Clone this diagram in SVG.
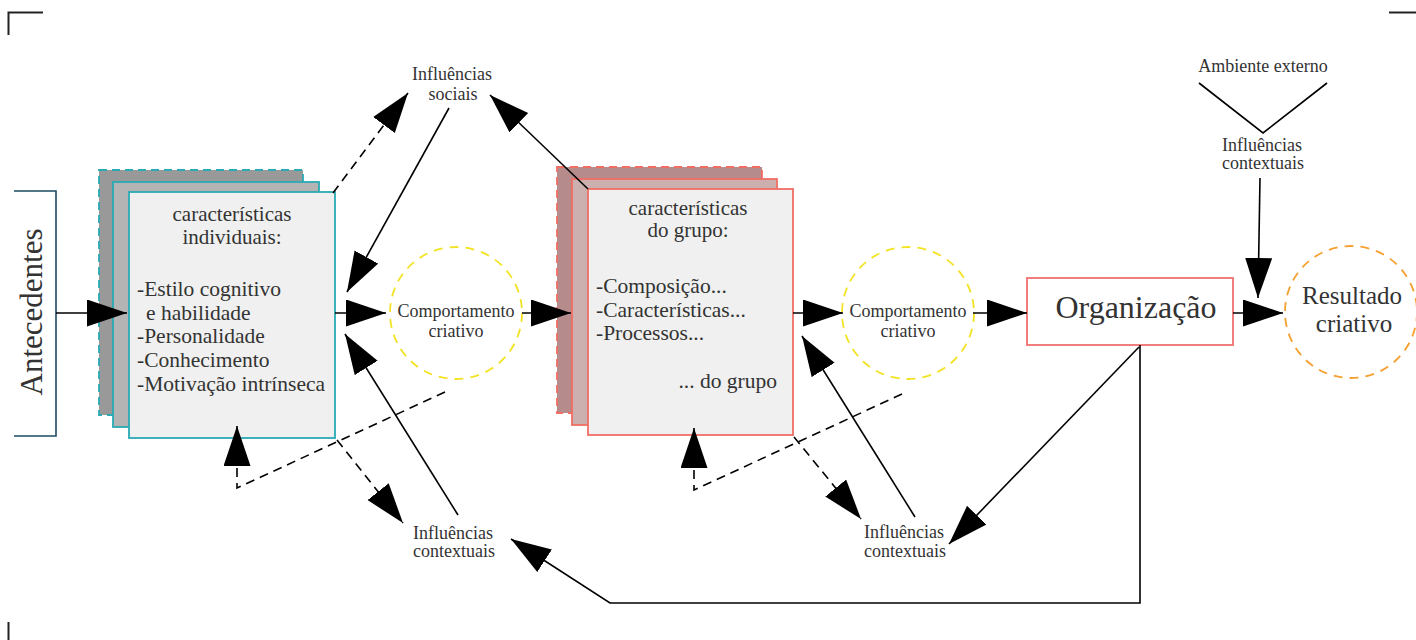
<svg xmlns="http://www.w3.org/2000/svg" width="1416" height="640" viewBox="0 0 1416 640">
  <style>
    text { font-family: "Liberation Serif", "DejaVu Serif", serif; fill: #333; }
    .mid { text-anchor: middle; }
    .sm { font-size: 18px; }
    .lbl { font-size: 21px; }
    .itm { font-size: 21.5px; }
    .con { fill: none; stroke: #000; stroke-width: 1.6; }
    .dash { stroke-dasharray: 9 6; }
    .teal { stroke: #2aaab3; stroke-width: 1.8; }
    .salmon { stroke: #f06e64; stroke-width: 1.8; }
    .front { fill: #eff0ef; }
    .circ { fill: none; stroke-width: 1.8; stroke-dasharray: 9 7; }
    .frame { fill: none; stroke: #222; stroke-width: 2; }
  </style>
  <defs>
    <marker id="head" markerUnits="userSpaceOnUse" markerWidth="41" markerHeight="28" refX="40" refY="13.5" orient="auto">
      <path d="M0,0 L40,13.5 L0,27 Z" fill="#000"/>
    </marker>
  </defs>

  <!-- page corner marks -->
  <path class="frame" d="M43,12.5 L8.5,12.5 L8.5,35"/>
  <path class="frame" d="M1389,12.5 L1416,12.5"/>
  <path class="frame" d="M8.5,622 L8.5,640"/>

  <!-- Antecedentes bracket -->
  <g id="antecedentes">
    <path d="M14,191 L56,191 L56,436 L14,436" fill="none" stroke="#1d4b62" stroke-width="1.6"/>
    <text transform="translate(42,312) rotate(-90)" class="mid" style="font-size:31px">Antecedentes</text>
  </g>

  <!-- individual characteristics stack -->
  <g id="individual">
    <rect x="99" y="170" width="204" height="245" fill="#999999" class="teal" stroke-dasharray="8 5"/>
    <rect x="113" y="182" width="206" height="245" fill="#b4b4b4" class="teal"/>
    <rect x="129" y="192" width="206" height="246" class="front teal"/>
    <text class="mid lbl" x="232" y="221">características</text>
    <text class="mid lbl" x="232" y="244">individuais:</text>
    <text class="itm" x="137" y="296">-Estilo cognitivo</text>
    <text class="itm" x="146" y="320">e habilidade</text>
    <text class="itm" x="137" y="343">-Personalidade</text>
    <text class="itm" x="137" y="367">-Conhecimento</text>
    <text class="itm" x="137" y="391">-Motivação intrínseca</text>
  </g>

  <!-- group characteristics stack -->
  <g id="grupo">
    <rect x="557" y="167" width="205" height="246" fill="#b58b8b" class="salmon" stroke-dasharray="8 5"/>
    <rect x="572" y="179" width="205" height="246" fill="#ccafaf" class="salmon"/>
    <rect x="588" y="189" width="205" height="246" class="front salmon"/>
    <text class="mid lbl" x="688" y="215">características</text>
    <text class="mid lbl" x="688" y="237">do grupo:</text>
    <text class="itm" x="596" y="293">-Composição...</text>
    <text class="itm" x="596" y="317">-Características...</text>
    <text class="itm" x="596" y="340">-Processos...</text>
    <text class="itm" x="777" y="388" text-anchor="end">... do grupo</text>
  </g>

  <!-- creative behaviour circles -->
  <g id="comportamento1">
    <circle cx="456" cy="313" r="66" class="circ" stroke="#f3e324"/>
    <text class="mid sm" x="456" y="317">Comportamento</text>
    <text class="mid sm" x="456" y="337">criativo</text>
  </g>
  <g id="comportamento2">
    <circle cx="908" cy="313" r="66" class="circ" stroke="#f3e324"/>
    <text class="mid sm" x="908" y="317">Comportamento</text>
    <text class="mid sm" x="908" y="337">criativo</text>
  </g>

  <!-- organisation -->
  <g id="organizacao">
    <rect x="1027" y="278" width="206" height="67" fill="#fff" stroke="#f07070" stroke-width="1.8"/>
    <text class="mid" x="1136" y="318" style="font-size:32px">Organização</text>
  </g>

  <!-- creative result -->
  <g id="resultado">
    <circle cx="1351" cy="312" r="66" class="circ" stroke="#f5a030"/>
    <text class="mid" x="1352" y="304" style="font-size:25px">Resultado</text>
    <text class="mid" x="1354" y="332" style="font-size:25px">criativo</text>
  </g>

  <!-- influence labels -->
  <g id="influencias-sociais">
    <text class="mid sm" x="452" y="80">Influências</text>
    <text class="mid sm" x="453" y="100">sociais</text>
  </g>
  <g id="ambiente-externo">
    <text class="mid sm" x="1263" y="72">Ambiente externo</text>
  </g>
  <g id="influencias-contextuais-org">
    <text class="mid sm" x="1262" y="151">Influências</text>
    <text class="mid sm" x="1263" y="169">contextuais</text>
  </g>
  <g id="influencias-contextuais-ind">
    <text class="mid sm" x="453" y="539">Influências</text>
    <text class="mid sm" x="454" y="557">contextuais</text>
  </g>
  <g id="influencias-contextuais-grp">
    <text class="mid sm" x="904" y="538">Influências</text>
    <text class="mid sm" x="905" y="557">contextuais</text>
  </g>

  <!-- connectors -->
  <g id="connectors">
    <path class="con" d="M56,313 L127,313" marker-end="url(#head)"/>
    <path class="con" d="M335,313 L386,313" marker-end="url(#head)"/>
    <path class="con" d="M522,313 L571,313" marker-end="url(#head)"/>
    <path class="con" d="M793,313 L843,313" marker-end="url(#head)"/>
    <path class="con" d="M973,313 L1027,313" marker-end="url(#head)"/>
    <path class="con" d="M1233,313 L1283,313" marker-end="url(#head)"/>
    <path class="con" d="M1260,178 L1258,298" marker-end="url(#head)"/>
    <path class="con" d="M1199,83 L1263,133 L1327,83"/>

    <!-- social influences -->
    <path class="con dash" d="M333,193 L408,93" marker-end="url(#head)"/>
    <path class="con" d="M449,108 L347,292" marker-end="url(#head)"/>
    <path class="con" d="M588,189 L490,95" marker-end="url(#head)"/>

    <!-- contextual influences, individual level -->
    <path class="con" d="M458,515 L345,334" marker-end="url(#head)"/>
    <path class="con dash" d="M445,392 L237,488 L237,426" marker-end="url(#head)"/>
    <path class="con dash" d="M337,440 L403,523" marker-end="url(#head)"/>

    <!-- contextual influences, group level -->
    <path class="con" d="M915,517 L802,336" marker-end="url(#head)"/>
    <path class="con dash" d="M902,394 L694,490 L694,428" marker-end="url(#head)"/>
    <path class="con dash" d="M794,437 L861,519" marker-end="url(#head)"/>

    <!-- organisation feedback -->
    <path class="con" d="M1139,347 L949,544" marker-end="url(#head)"/>
    <path class="con" d="M1140,345 L1140,603 L610,603 L511,539" marker-end="url(#head)"/>
  </g>
</svg>
